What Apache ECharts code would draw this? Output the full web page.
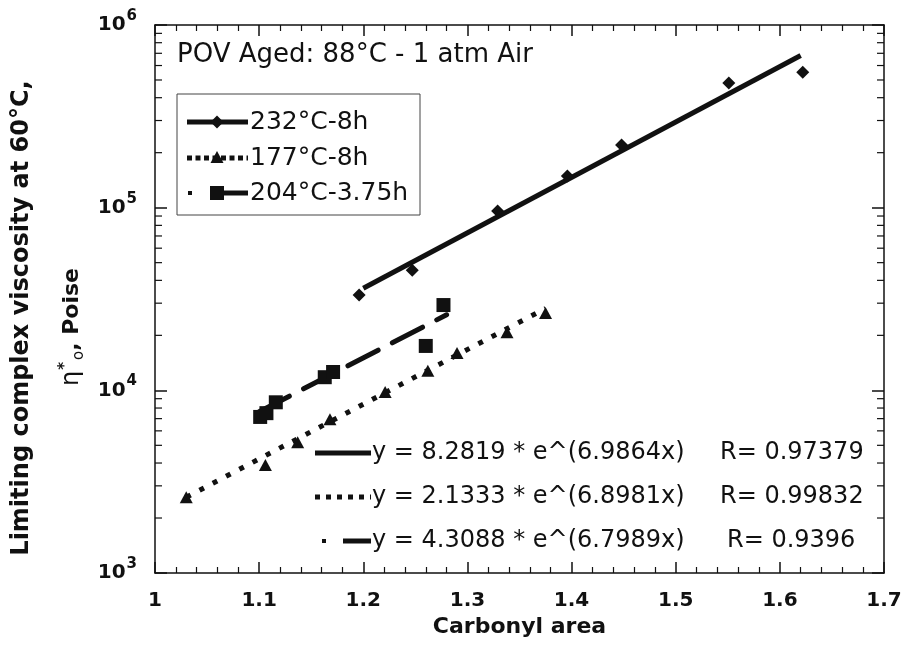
<!DOCTYPE html>
<html>
<head>
<meta charset="utf-8">
<script src="https://cdn.jsdelivr.net/npm/echarts@6/dist/echarts.min.js"></script>
<style>
  html, body { margin: 0; padding: 0; background: #fff; }
  #chart { width: 910px; height: 645px; }
</style>
</head>
<body>
<div id="chart"></div>
<script>
// Aging conditions
const seriesNames = ['232°C-8h', '177°C-8h', '204°C-3.75h'];

// Carbonyl area (x) and limiting complex viscosity at 60°C (y, Poise)
const x232 = [1.196, 1.247, 1.329, 1.396, 1.448, 1.551, 1.622];
const y232 = [33300, 45500, 96000, 149000, 220000, 481000, 552000];
const x177 = [1.030, 1.106, 1.137, 1.168, 1.221, 1.262, 1.290, 1.338, 1.375];
const y177 = [2600, 3900, 5200, 6950, 9800, 12800, 16000, 20800, 26500];
const x204 = [1.101, 1.107, 1.116, 1.163, 1.171, 1.260, 1.277];
const y204 = [7150, 7500, 8600, 11800, 12600, 17500, 29300];

// Exponential fits y = a * e^(b x), their R values and the x span each fit covers
const fitA = [8.2819, 2.1333, 4.3088];
const fitB = [6.9864, 6.8981, 6.7989];
const fitR = ['0.97379', '0.99832', '0.9396'];
const fitFrom = [1.20, 1.03, 1.10];
const fitTo = [1.62, 1.375, 1.28];

// Axis ranges and ticks
const xMin = 1, xMax = 1.7, xStep = 0.1;
const yMin = 1e3, yMax = 1e6;
const yDecades = [1e3, 1e4, 1e5];
const yMinorMultipliers = [2, 3, 4, 5, 6, 7, 8, 9];

const titleText = 'POV Aged: 88°C - 1 atm Air';
const xName = 'Carbonyl area';
const yNameLine1 = 'Limiting complex viscosity at 60°C,';

const pairs = (xs, ys) => xs.map((x, i) => [x, ys[i]]);
const fitLine = i => [
  [fitFrom[i], fitA[i] * Math.exp(fitB[i] * fitFrom[i])],
  [fitTo[i], fitA[i] * Math.exp(fitB[i] * fitTo[i])]
];

const minorY = [];
yDecades.forEach(d => yMinorMultipliers.forEach(m => minorY.push([xMin, d * m])));

const INK = '#111';
const SANS = 'DejaVu Sans';

const dotDash = [5, 10];
const longDash = [34, 16];

const chart = echarts.init(document.getElementById('chart'), null, { renderer: 'canvas' });

const xAxisBase = {
  type: 'value', min: xMin, max: xMax, interval: xStep,
  axisLine: { show: true, onZero: false, lineStyle: { color: INK, width: 1.5 } },
  axisTick: { show: true, inside: true, length: 11, lineStyle: { color: INK, width: 1.5 } },
  minorTick: { show: true, splitNumber: 5, length: 6, lineStyle: { color: INK, width: 1.2 } },
  splitLine: { show: false },
  minorSplitLine: { show: false }
};
const yAxisBase = {
  type: 'log', logBase: 10, min: yMin, max: yMax,
  axisLine: { show: true, onZero: false, lineStyle: { color: INK, width: 1.5 } },
  axisTick: { show: true, inside: true, length: 12, lineStyle: { color: INK, width: 1.5 } },
  splitLine: { show: false }
};

// Legend box and fit-equation key
const legendRows = [122, 158, 193];
const eqRows = [453, 497, 541];
const graphics = [
  { type: 'text', x: 177, y: 55, style: { text: titleText, font: '26px "' + SANS + '"', fill: INK, verticalAlign: 'middle', align: 'left' } },
  { type: 'rect', shape: { x: 177, y: 94, width: 243, height: 121 }, style: { fill: 'none', stroke: '#444', lineWidth: 1 } },
  // 232 row
  { type: 'line', shape: { x1: 187, y1: legendRows[0], x2: 248, y2: legendRows[0] }, style: { stroke: INK, lineWidth: 5 } },
  { type: 'polygon', shape: { points: [[217, legendRows[0] - 6.5], [223.5, legendRows[0]], [217, legendRows[0] + 6.5], [210.5, legendRows[0]]] }, style: { fill: INK } },
  // 177 row
  { type: 'line', shape: { x1: 187, y1: legendRows[1], x2: 248, y2: legendRows[1] }, style: { stroke: INK, lineWidth: 5, lineDash: [5, 3.5] } },
  { type: 'polygon', shape: { points: [[217, legendRows[1] - 7], [223.5, legendRows[1] + 5], [210.5, legendRows[1] + 5]] }, style: { fill: INK } },
  // 204 row
  { type: 'rect', shape: { x: 188, y: legendRows[2] - 2, width: 4, height: 4 }, style: { fill: INK } },
  { type: 'rect', shape: { x: 210, y: legendRows[2] - 7, width: 14, height: 14 }, style: { fill: INK } },
  { type: 'line', shape: { x1: 224, y1: legendRows[2], x2: 248, y2: legendRows[2] }, style: { stroke: INK, lineWidth: 5 } },
  // fit key samples
  { type: 'line', shape: { x1: 315, y1: eqRows[0], x2: 371, y2: eqRows[0] }, style: { stroke: INK, lineWidth: 5 } },
  { type: 'line', shape: { x1: 315, y1: eqRows[1], x2: 371, y2: eqRows[1] }, style: { stroke: INK, lineWidth: 5, lineDash: [5, 6] } },
  { type: 'rect', shape: { x: 322, y: eqRows[2] - 2, width: 4, height: 4 }, style: { fill: INK } },
  { type: 'line', shape: { x1: 343, y1: eqRows[2], x2: 371, y2: eqRows[2] }, style: { stroke: INK, lineWidth: 5 } }
];
seriesNames.forEach((name, i) => {
  graphics.push({ type: 'text', x: 250, y: legendRows[i], style: { text: name, font: '25px "' + SANS + '"', fill: INK, verticalAlign: 'middle', align: 'left' } });
  graphics.push({ type: 'text', x: 372, y: eqRows[i], style: { text: 'y = ' + fitA[i] + ' * e^(' + fitB[i] + 'x)', font: '24px "' + SANS + '"', fill: INK, verticalAlign: 'middle', align: 'left' } });
  graphics.push({ type: 'text', x: i === 2 ? 727 : 720, y: eqRows[i], style: { text: 'R= ' + fitR[i], font: '24px "' + SANS + '"', fill: INK, verticalAlign: 'middle', align: 'left' } });
});
// Y axis title, two rotated lines
graphics.push({
  type: 'text', x: 22, y: 318, rotation: Math.PI / 2,
  style: { text: yNameLine1, font: 'bold 24px "' + SANS + '"', fill: INK, align: 'center', verticalAlign: 'middle' }
});
graphics.push({
  type: 'text', x: 72, y: 327, rotation: Math.PI / 2,
  style: {
    text: '{eta|η}{sup|*}{sub|o}{b|, Poise}',
    align: 'center', verticalAlign: 'middle', fill: INK,
    rich: {
      eta: { fontFamily: SANS, fontSize: 24, fill: INK },
      sup: { fontFamily: SANS, fontWeight: 'bold', fontSize: 15, padding: [0, 2, 14, 1], fill: INK },
      sub: { fontFamily: SANS, fontSize: 15, padding: [14, 0, 0, 0], fill: INK },
      b: { fontFamily: SANS, fontWeight: 'bold', fontSize: 22, fill: INK }
    }
  }
});

const option = {
  animation: false,
  backgroundColor: '#fff',
  grid: { left: 155, top: 25, width: 729, height: 548, containLabel: false },
  xAxis: [
    Object.assign({}, xAxisBase, {
      position: 'bottom',
      axisLabel: { color: INK, fontFamily: SANS, fontWeight: 'bold', fontSize: 20, margin: 18 },
      name: xName, nameLocation: 'middle', nameGap: 43,
      nameTextStyle: { color: INK, fontFamily: SANS, fontWeight: 'bold', fontSize: 22 }
    }),
    Object.assign({}, xAxisBase, { position: 'top', axisLabel: { show: false } })
  ],
  yAxis: [
    Object.assign({}, yAxisBase, {
      position: 'left',
      axisLabel: {
        color: INK, margin: 18,
        formatter: v => '{b|10}{s|' + Math.round(Math.log10(v)) + '}',
        rich: {
          b: { fontFamily: SANS, fontWeight: 'bold', fontSize: 20, color: INK },
          s: { fontFamily: SANS, fontWeight: 'bold', fontSize: 15, color: INK, padding: [0, 0, 18, 1] }
        }
      }
    }),
    Object.assign({}, yAxisBase, { position: 'right', axisLabel: { show: false } })
  ],
  graphic: graphics,
  series: [
    {
      name: 'minorTicksY', type: 'custom', xAxisIndex: 0, yAxisIndex: 0, silent: true, clip: false,
      encode: { x: 0, y: 1 }, data: minorY, z: 5,
      renderItem: (params, api) => {
        const y = api.coord([xMin, api.value(1)])[1];
        const cs = params.coordSys;
        return {
          type: 'group', children: [
            { type: 'line', shape: { x1: cs.x, y1: y, x2: cs.x + 7, y2: y }, style: { stroke: INK, lineWidth: 1.2 } },
            { type: 'line', shape: { x1: cs.x + cs.width, y1: y, x2: cs.x + cs.width - 7, y2: y }, style: { stroke: INK, lineWidth: 1.2 } }
          ]
        };
      }
    },
    {
      name: seriesNames[0] + ' fit', type: 'line', data: fitLine(0), symbol: 'none',
      lineStyle: { color: INK, width: 5, type: 'solid' }, z: 3
    },
    {
      name: seriesNames[1] + ' fit', type: 'line', data: fitLine(1), symbol: 'none',
      lineStyle: { color: INK, width: 5, type: dotDash, cap: 'butt' }, z: 3
    },
    {
      name: seriesNames[2] + ' fit', type: 'line', data: fitLine(2), symbol: 'none',
      lineStyle: { color: INK, width: 5, type: longDash, cap: 'round' }, z: 3
    },
    {
      name: seriesNames[0], type: 'scatter', data: pairs(x232, y232),
      symbol: 'diamond', symbolSize: 13, itemStyle: { color: INK, opacity: 1 }, z: 4
    },
    {
      name: seriesNames[1], type: 'scatter', data: pairs(x177, y177),
      symbol: 'triangle', symbolSize: [13, 12], itemStyle: { color: INK, opacity: 1 }, z: 4
    },
    {
      name: seriesNames[2], type: 'scatter', data: pairs(x204, y204),
      symbol: 'rect', symbolSize: 14, itemStyle: { color: INK, opacity: 1 }, z: 4
    }
  ]
};

chart.setOption(option);
</script>
</body>
</html>
